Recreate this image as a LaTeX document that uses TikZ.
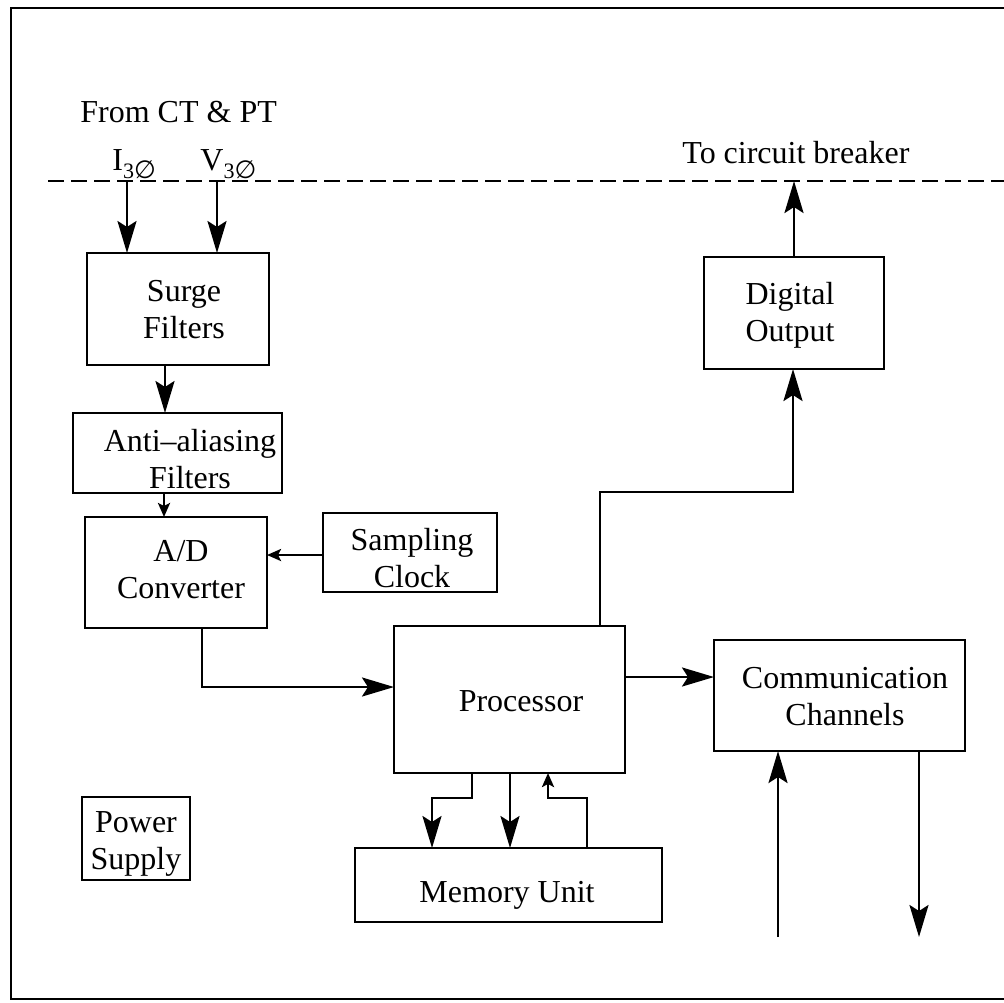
\documentclass[tikz,border=0pt]{standalone}
\usepackage{fontspec}
\setmainfont{Liberation Serif}
\newfontfamily\symfont{DejaVu Sans}
\usetikzlibrary{arrows.meta,fit}
\begin{document}
\begin{tikzpicture}[x=0.5pt,y=-0.5pt,
  box/.style={draw, line width=1.3pt, inner sep=0pt, outer sep=0pt},
  lbl/.style={align=center, font=\fontsize{16}{18.5}\selectfont, inner sep=0pt},
  wire/.style={line width=1.3pt},
  arr/.style={wire, -{Stealth[length=16pt,width=9.5pt,inset=3pt]}},
  sarr/.style={wire, -{Stealth[length=7pt,width=6pt,inset=1.5pt]}},
  dashline/.style={wire, dash pattern=on 8pt off 3.5pt},
]
\useasboundingbox (0,0) rectangle (1004,1002);
% frame
\draw[line width=1.4pt] (1004,8) -- (11,8) -- (11,999) -- (1004,999);
% dashed line
\coordinate (dl) at (48,181);
\coordinate (dr) at (1004,181);
\draw[dashline] (dl) -- (dr);
% boxes
\node[box, fit={(87,253) (269,365)}] (surge) {};
\node[box, fit={(73,413) (282,493)}] (aa) {};
\node[box, fit={(85,517) (267,628)}] (ad) {};
\node[box, fit={(323,513) (497,592)}] (clk) {};
\node[box, fit={(394,626) (625,773)}] (proc) {};
\node[box, fit={(704,257) (884,369)}] (dout) {};
\node[box, fit={(714,640) (965,751)}] (comm) {};
\node[box, fit={(355,848) (662,922)}] (mem) {};
\node[box, fit={(82,797) (190,880)}] (pwr) {};
% labels
\node[lbl, anchor=base west] (from) at (80,122) {From CT \& PT};
\node[lbl, anchor=base west] (ilab) at (112,170) {I\raisebox{-0.25em}{\fontsize{11}{11}\selectfont 3{\symfont\fontsize{12.5}{12}\selectfont ∅}}};
\node[lbl, anchor=base west] (vlab) at (200,170) {V\raisebox{-0.25em}{\fontsize{11}{11}\selectfont 3{\symfont\fontsize{12.5}{12}\selectfont ∅}}};
\node[lbl, anchor=base west] (tocb) at (682,163) {To circuit breaker};
\node[lbl] (surget) at (184,310) {Surge\\Filters};
\node[lbl] (aat) at (190,459) {Anti–aliasing\\Filters};
\node[lbl] (adt) at (181,570) {A/D\\Converter};
\node[lbl] (clkt) at (412,558) {Sampling\\Clock};
\node[lbl] (proct) at (521,701) {Processor};
\node[lbl] (doutt) at (790,315) {Digital\\Output};
\node[lbl] (commt) at (845,697) {Communication\\Channels};
\node[lbl] (memt) at (507,895) {Memory Unit};
\node[lbl] (pwrt) at (136,844) {Power\\Supply};
% connectors
\draw[arr] (dl -| 127,0) -- (surge.north -| 127,0);
\draw[arr] (dl -| 217,0) -- (surge.north -| 217,0);
\draw[arr] (surge.south -| 165,0) -- (aa.north -| 165,0);
\draw[sarr] (aa.south -| 164,0) -- (ad.north -| 164,0);
\draw[sarr] (clk.west |- 0,555) -- (ad.east |- 0,555);
\draw[arr] (ad.south -| 202,0) |- (proc.west |- 0,687);
\draw[arr] (proc.north -| 600,0) |- (793,492) -- (dout.south -| 793,0);
\draw[arr] (dout.north) -- (dout.north |- dl);
\draw[arr] (proc.east |- 0,677) -- (comm.west |- 0,677);
\coordinate (cin) at (778,937);
\coordinate (cout) at (919,937);
\draw[arr] (cin) -- (comm.south -| cin);
\draw[arr] (comm.south -| cout) -- (cout);
\draw[arr] (proc.south -| 472,0) |- (432,798) -- (mem.north -| 432,0);
\draw[arr] (proc.south -| 510,0) -- (mem.north -| 510,0);
\draw[sarr] (mem.north -| 587,0) |- (548,798) -- (proc.south -| 548,0);
\end{tikzpicture}
\end{document}
